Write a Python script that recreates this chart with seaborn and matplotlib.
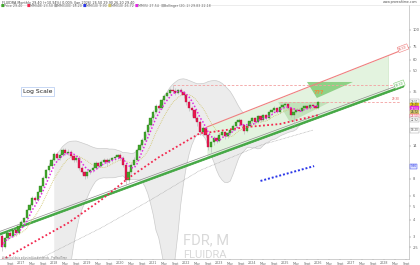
import numpy as np
import pandas as pd
import matplotlib
matplotlib.use("Agg")
import matplotlib.pyplot as plt
import seaborn as sns

sns.set_theme(style="white")
plt.rcParams['font.family'] = ['DejaVu Sans']

# ---------------- data (monthly candles, Jun 2016 .. Jan 2026) ----------------
opens = [3.04, 2.53, 2.93, 3.19, 3.04, 3.35, 3.19,
         3.58, 3.85, 4.10, 4.70, 5.12, 5.75, 5.57, 6.37, 7.05, 8.10, 9.26, 9.95,
         11.0, 12.1, 11.3, 11.9, 13.0, 12.4, 12.6, 11.7, 11.0, 11.3, 9.6, 8.9,
         8.35, 8.9, 9.26, 9.6, 10.4, 9.95, 10.6, 11.0, 10.6, 11.0, 11.3, 11.5,
         11.9, 11.3, 10.1, 7.82, 8.9, 10.1, 11.0, 13.0, 14.1, 15.4, 17.6, 19.9,
         22.3, 24.8, 27.4, 26.5, 30.3, 32.5, 34.3, 35.9, 35.3, 34.3, 35.9, 34.8,
         33.0, 29.4, 26.5, 25.6, 22.3, 20.8, 17.6, 18.9, 16.8, 13.6, 14.8, 15.9,
         15.1, 16.8, 17.6, 16.5, 17.3, 18.2, 19.6, 20.8, 21.6, 19.9, 17.9, 19.6,
         21.2, 22.3, 20.8, 23.1, 21.6, 23.5, 22.3, 24.8, 25.6, 26.5, 24.8, 26.9,
         27.9, 28.3, 26.5, 23.5, 24.8, 25.6, 25.2, 26.5, 27.4, 26.5, 27.9, 27.4, 26.5]
closes = [2.53, 2.93, 3.19, 3.04, 3.35, 3.19, 3.58,
          3.85, 4.10, 4.70, 5.12, 5.75, 5.57, 6.37, 7.05, 8.10, 9.26, 9.95, 11.0,
          12.1, 11.3, 11.9, 13.0, 12.4, 12.6, 11.7, 11.0, 11.3, 9.6, 8.9, 8.35,
          8.9, 9.26, 9.6, 10.4, 9.95, 10.6, 11.0, 10.6, 11.0, 11.3, 11.5, 11.9,
          11.3, 10.1, 7.82, 8.9, 10.1, 11.0, 13.0, 14.1, 15.4, 17.6, 19.9, 22.3,
          24.8, 27.4, 26.5, 30.3, 32.5, 34.3, 35.9, 35.3, 34.3, 35.9, 34.8, 33.0,
          29.4, 26.5, 25.6, 22.3, 20.8, 17.6, 18.9, 16.8, 13.6, 14.8, 15.9, 15.1,
          16.8, 17.6, 16.5, 17.3, 18.2, 19.6, 20.8, 21.6, 19.9, 17.9, 19.6, 21.2,
          22.3, 20.8, 23.1, 21.6, 23.5, 22.3, 24.8, 25.6, 26.5, 24.8, 26.9, 27.9,
          28.3, 26.5, 23.5, 24.8, 25.6, 25.2, 26.5, 27.4, 26.5, 27.9, 27.4, 26.5, 29.4]
highs = [3.15, 3.00, 3.30, 3.30, 3.45, 3.45, 3.65,
         3.95, 4.20, 4.80, 5.30, 6.00, 6.00, 6.50, 7.20, 8.30, 9.50, 10.4, 11.3,
         12.6, 12.5, 12.3, 13.4, 13.5, 13.2, 13.0, 12.0, 11.8, 11.5, 9.9, 9.1,
         9.1, 9.5, 9.9, 10.8, 10.7, 10.9, 11.4, 11.3, 11.4, 11.6, 11.9, 12.2,
         12.3, 11.8, 10.3, 9.2, 10.4, 11.6, 13.4, 14.6, 15.9, 18.2, 20.5, 23.0,
         25.6, 28.3, 28.5, 31.2, 33.5, 35.3, 37.0, 39.0, 37.0, 36.8, 37.5, 35.5,
         33.5, 30.5, 27.5, 26.2, 23.0, 21.5, 19.5, 19.3, 17.2, 15.2, 16.5, 16.4,
         17.4, 18.3, 18.0, 17.9, 18.8, 20.1, 21.5, 22.2, 22.0, 20.3, 20.0, 21.7,
         22.9, 22.8, 23.6, 23.5, 24.1, 24.0, 25.4, 26.2, 27.3, 27.0, 27.6, 28.6,
         29.4, 28.9, 27.0, 25.2, 26.2, 26.3, 27.1, 28.0, 28.1, 28.6, 28.5, 28.0, 29.9]
lows = [2.35, 2.45, 2.85, 2.95, 2.98, 3.05, 3.12,
        3.50, 3.75, 4.00, 4.60, 5.00, 5.40, 5.50, 6.20, 6.90, 8.00, 9.00, 9.80,
        10.8, 10.9, 11.0, 11.7, 12.0, 12.0, 11.4, 10.7, 10.6, 9.3, 8.6, 8.0,
        8.1, 8.7, 9.0, 9.4, 9.6, 9.7, 10.3, 10.0, 10.4, 10.7, 11.0, 11.2,
        11.0, 9.8, 7.2, 7.6, 8.7, 9.9, 10.8, 12.7, 13.8, 15.1, 17.2, 19.5,
        21.8, 24.2, 25.8, 26.0, 29.6, 31.8, 33.5, 34.5, 33.0, 33.5, 33.0, 31.5,
        28.0, 25.0, 23.0, 21.5, 19.6, 16.8, 16.9, 16.2, 12.9, 12.6, 14.2, 14.6,
        14.8, 16.4, 15.8, 16.0, 16.9, 17.8, 19.2, 20.2, 19.5, 17.2, 17.6, 19.2,
        20.6, 20.2, 20.5, 21.0, 21.3, 21.8, 21.9, 23.8, 25.0, 24.3, 24.5, 26.4,
        27.2, 25.9, 22.8, 19.9, 24.3, 24.7, 24.9, 26.0, 26.0, 26.2, 26.8, 26.2, 26.2]

# long moving averages (month index, price)
red_ma_idx = [0, 11, 24, 36, 46, 57, 72, 76, 89, 101, 115]
red_ma_val = [2.02, 2.69, 3.77, 5.57, 8.09, 11.5, 17.3, 17.6, 19.2, 20.2, 23.5]
gray_ma_idx = [5, 15, 36, 54, 72, 94, 113]
gray_ma_val = [1.95, 2.12, 3.47, 5.57, 9.2, 14.1, 18.2]
blue_idx = [94, 113.5]
blue_val = [7.7, 9.9]
# drawn objects
support_idx = [-0.8, 146.0]
support_val = [3.13, 38.5]
resist_idx = [74.5, 148.3]
resist_val = [19.2, 74.5]
channel_end = 140.4
hline_hi_val = 39.1
hline_hi_span = [62.2, 143.0]
hline_mid_val = 29.3
hline_mid_span = [101.0, 144.7]
tri_dark_idx = [110.9, 127.6, 114.5]
tri_dark_val = [41.2, 41.2, 31.4]
tri_light_idx = [100.4, 119.3, 104.7]
tri_light_val = [29.3, 29.3, 20.8]
price_ticks = [2.5, 3, 4, 5, 6, 8, 14, 35, 50, 60, 75, 100]
time_labels = ['Sept', '2017', 'May', 'Sept', '2018', 'May', 'Sept', '2019', 'May', 'Sept',
               '2020', 'May', 'Sept', '2021', 'May', 'Sept', '2022', 'May', 'Sept', '2023',
               'May', 'Sept', '2024', 'May', 'Sept', '2025', 'May', 'Sept', '2026', 'May',
               'Sept', '2027', 'May', 'Sept', '2028', 'May', 'Sept']
time_label_idx = list(range(3, 3 + 4 * len(time_labels), 4))

# ---------------- frame ----------------
df = pd.DataFrame({'i': np.arange(len(closes)), 'o': opens, 'h': highs, 'l': lows, 'c': closes})
W, H = 420, 265
fig = plt.figure(figsize=(W / 100, H / 100), dpi=100)
fig.patch.set_facecolor('white')
ax = fig.add_axes([0, 6 / H, 409 / W, 254 / H])
ax.set_facecolor('white')
ax.set_yscale('log')
ax.set_xlim(-0.73, 148.0)
ax.set_ylim(2.05, 151.9)

def loglin(xs, x0, x1, v0, v1):
    return np.exp(np.interp(xs, [x0, x1], np.log([v0, v1])))

# Bollinger band (20, 2)
s = df['c']
mid = s.rolling(20, min_periods=20).mean()
sd = s.rolling(20, min_periods=20).std(ddof=0)
up = mid + 2 * sd
lo = (mid - 2 * sd).clip(lower=0.3)
ax.fill_between(df['i'], lo, up, color='#ececec', lw=0, zorder=0)
ax.plot(df['i'], up, color='#cbcbcb', lw=0.5, zorder=0.5)
ax.plot(df['i'], lo, color='#cbcbcb', lw=0.5, zorder=0.5)

# channel fill
xs = np.linspace(resist_idx[0], channel_end, 60)
top = loglin(xs, *resist_idx, *resist_val)
bot = loglin(xs, *support_idx, *support_val)
ax.fill_between(xs, bot, top, color='#e3f3df', lw=0, zorder=1)
ax.plot([channel_end, channel_end], [bot[-1], top[-1]], color='#cfe8c9', lw=0.5, zorder=1)

# triangles
ax.fill(tri_light_idx, tri_light_val, color='#b9deb1', alpha=0.8, lw=0, zorder=1.2)
ax.fill(tri_dark_idx, tri_dark_val, color='#7fcb75', alpha=0.85, lw=0, zorder=1.2)
ax.text(np.mean(tri_dark_idx[:2]) - 4, 34.6, '???', color='#f08a3c', fontsize=4.3,
        ha='center', va='center', fontweight='bold', zorder=6)

# dashed horizontal levels
ax.plot(hline_hi_span, [hline_hi_val] * 2, color='#f3a0a0', lw=0.6, ls=(0, (3, 2)), zorder=2)
ax.plot(hline_mid_span, [hline_mid_val] * 2, color='#f3a0a0', lw=0.6, ls=(0, (3, 2)), zorder=2)

# trend lines
sx = np.array(support_idx)
sv = np.array(support_val)
ax.plot(sx, sv * 1.045, color='#8c8c8c', lw=0.5, zorder=3)
ax.plot(sx, sv, color='#45a845', lw=1.5, zorder=3)
ax.plot(sx, sv * 0.982, color='#45a845', lw=0.6, zorder=3)
ax.plot(resist_idx, resist_val, color='#ef8080', lw=0.8, zorder=3)

# moving averages
sns.lineplot(x=gray_ma_idx, y=gray_ma_val, ax=ax, color='#a8a8a8', lw=0.5,
             linestyle=(0, (1, 1)), zorder=3)
sns.lineplot(x=blue_idx, y=blue_val, ax=ax, color='#2a36e8', lw=1.4,
             linestyle=(0, (1, 1)), zorder=3)
ma10 = s.rolling(10, min_periods=1).mean()
ma5 = s.rolling(5, min_periods=1).mean()
sns.lineplot(x=df['i'], y=ma10, ax=ax, color='#cfc46a', lw=0.6, linestyle=(0, (1, 1.2)), zorder=4)

# candles
up_mask = df['c'] >= df['o']
colors = np.where(up_mask, '#3fa62a', '#e8174f')
edges = np.where(up_mask, '#2f7f1f', '#b01040')
ax.vlines(df['i'], df['l'], df['h'], color='#bdbdbd', lw=0.5, zorder=4.5)
body_lo = np.minimum(df['o'], df['c'])
body_h = np.abs(df['c'] - df['o'])
ax.bar(df['i'], body_h, bottom=body_lo, width=0.75, color=colors, edgecolor=edges,
       linewidth=0.25, zorder=5)

sns.lineplot(x=df['i'], y=ma5, ax=ax, color='#e02ae0', lw=1.1, linestyle=(0, (1, 1.3)), zorder=6)
sns.lineplot(x=red_ma_idx, y=red_ma_val, ax=ax, color='#f2284f', lw=1.3,
             linestyle=(0, (1, 1.3)), zorder=6)

# line labels
ax.text(resist_idx[1] - 2.5, resist_val[1] * 0.98, f'{resist_val[1]:.2f}', fontsize=2.2,
        color='#e05050', rotation=21, ha='center', va='center', zorder=7,
        bbox=dict(boxstyle='square,pad=0.25', fc='white', ec='#ef8080', lw=0.4))
ax.text(support_idx[1] - 1.5, support_val[1] * 1.03, f'{support_val[1]:.2f}', fontsize=2.2,
        color='#45a845', rotation=20, ha='center', va='center', zorder=7,
        bbox=dict(boxstyle='square,pad=0.25', fc='white', ec='#7fcb75', lw=0.4))
ax.text(hline_mid_span[1] - 0.2, hline_mid_val * 1.012, f'{hline_mid_val:.2f}', fontsize=2.0,
        color='#e05050', ha='right', va='bottom', zorder=7)

# axes styling
ax.yaxis.tick_right()
ax.set_yticks(price_ticks)
ax.set_yticklabels([f'{t:g}' for t in price_ticks])
ax.yaxis.set_minor_locator(matplotlib.ticker.NullLocator())
ax.set_xticks(time_label_idx)
ax.set_xticklabels(time_labels)
ax.tick_params(axis='y', labelsize=2.6, colors='#666666', length=1.5, width=0.3, pad=1.2,
               right=True, left=False)
ax.tick_params(axis='x', labelsize=2.3, colors='#666666', length=1, width=0.3, pad=0.8,
               bottom=True)
for side in ['top', 'left']:
    ax.spines[side].set_visible(False)
for side in ['right', 'bottom']:
    ax.spines[side].set_color('#bbbbbb')
    ax.spines[side].set_linewidth(0.5)
ax.set_xlabel('')
ax.set_ylabel('')
ax.grid(False)

# right-side value boxes (stacked so they do not overlap)
right_labels = [
    (up.iloc[-1], '#ffffff', '#999999', '#555555'),
    (closes[-1], '#f2d21a', '#c8a800', '#333333'),
    (ma5.iloc[-1], '#e02ae0', '#e02ae0', '#ffffff'),
    (ma10.iloc[-1], '#cfc46a', '#cfc46a', '#333333'),
    (red_ma_val[-1], '#ffffff', '#f2284f', '#f2284f'),
    (lo.iloc[-1], '#ffffff', '#999999', '#555555'),
    (gray_ma_val[-1], '#ffffff', '#999999', '#555555'),
    (blue_val[-1], '#dfe3ff', '#2a36e8', '#2a36e8'),
]
fig.canvas.draw()
placed = []
for v, fc, ec, tc in sorted(right_labels, key=lambda r: -r[0]):
    ypx = ax.transData.transform((0, v))[1]
    if placed and placed[-1] - ypx < 3.6:
        ypx = placed[-1] - 3.6
    placed.append(ypx)
    fig.text(410.5 / W, ypx / H, f'{v:.2f}', fontsize=2.0, color=tc, ha='left',
             va='center', zorder=8,
             bbox=dict(boxstyle='square,pad=0.15', fc=fc, ec=ec, lw=0.3))

# header
fig.text(0.004, 1 - 2.6 / H, 'FLUIDRA Monthly 29.40 (+10.94%) 0.00% (Jan 2026) 26.50 29.90 26.20 29.40',
         fontsize=2.4, color='#444444', va='center', ha='left')
legend_items = [('■', '#3fa62a', 'Price 29.40'), ('■', '#f2284f', 'MM(48) 23.50'),
                ('■', '#a8a8a8', 'MM(100) 18.20'), ('■', '#2a36e8', 'MM(10) 9.90'),
                ('■', '#cfc46a', 'MM(10) 26.72'), ('■', '#e02ae0', 'MM(5) 27.54'),
                ('■', '#bbbbbb', 'Bollinger (20, 2) 29.83 22.18')]
x0 = 1.0
for sym, col, lab in legend_items:
    fig.text(x0 / W, 1 - 6.3 / H, sym, fontsize=2.6, color=col, va='center', ha='left')
    fig.text((x0 + 3.5) / W, 1 - 6.3 / H, lab, fontsize=2.3, color='#666666', va='center', ha='left')
    x0 += 4.5 + len(lab) * 1.55 + 4
fig.text(417 / W, 1 - 2.5 / H, 'www.prorealtime.com', fontsize=2.3, color='#555555',
         va='center', ha='right')
fig.add_artist(plt.Line2D([0, 1], [1 - 4.5 / H] * 2, color='#dddddd', lw=0.4))

# Log Scale box
fig.text(37.5 / W, 1 - 91.5 / H, 'Log Scale', fontsize=4.4, color='#222222', ha='center',
         va='center', bbox=dict(boxstyle='square,pad=0.35', fc='white', ec='#b0c8f0', lw=0.5))

# watermark
fig.text(206 / W, 1 - 240 / H, 'FDR, M', fontsize=10.5, color='#d9d9d9', ha='center',
         va='center', family=['Roboto', 'DejaVu Sans'])
fig.text(205 / W, 1 - 254.5 / H, 'FLUIDRA', fontsize=8, color='#d9d9d9', ha='center',
         va='center', family=['Roboto', 'DejaVu Sans'])
fig.text(2 / W, 1 - 258 / H, 'Historical data adjusted for dividends - ProRealTime', fontsize=1.8,
         color='#777777', ha='left', va='center')

fig.savefig('out.png', dpi=100, facecolor='white')
